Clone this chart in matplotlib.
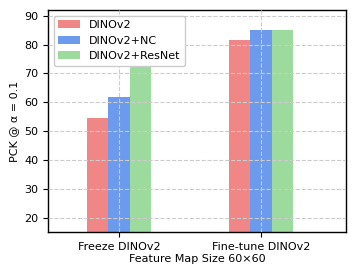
import matplotlib
matplotlib.use("Agg")
import matplotlib.pyplot as plt
import numpy as np

categories = ["Freeze DINOv2", "Fine-tune DINOv2"]
series_names = ["DINOv2", "DINOv2+NC", "DINOv2+ResNet"]
dinov2 = [54.4, 81.6]
dinov2_nc = [61.8, 85.0]
dinov2_resnet = [75.0, 85.0]
colors = ["#F08080", "#6495ED", "#98D898"]

fig = plt.figure(figsize=(3.56, 2.77), dpi=100)
ax = fig.add_axes([48/356, 45/277, 298/356, 222/277])

x = np.arange(len(categories))
w = 0.15
for i, (vals, name, c) in enumerate(zip([dinov2, dinov2_nc, dinov2_resnet], series_names, colors)):
    ax.bar(x + (i - 1) * w, vals, width=w, color=c, alpha=0.95, label=name, zorder=2)

ax.set_xticks(x)
ax.set_xticklabels(categories, fontsize=8)
ax.set_yticks([20, 30, 40, 50, 60, 70, 80, 90])
ax.tick_params(axis='y', labelsize=8)
ax.set_xlim(-0.5, 1.6)
ax.set_ylim(15, 92)
ax.grid(True, linestyle='--', color='#cccccc', linewidth=0.8, zorder=3)
ax.set_axisbelow(False)
ax.set_xlabel("Feature Map Size 60×60", fontsize=8, labelpad=2)
ax.set_ylabel("PCK @ α = 0.1", fontsize=8)
ax.legend(loc='upper left', fontsize=8, framealpha=1)
for s in ax.spines.values():
    s.set_linewidth(1.0)

fig.savefig("out.png", dpi=100)
